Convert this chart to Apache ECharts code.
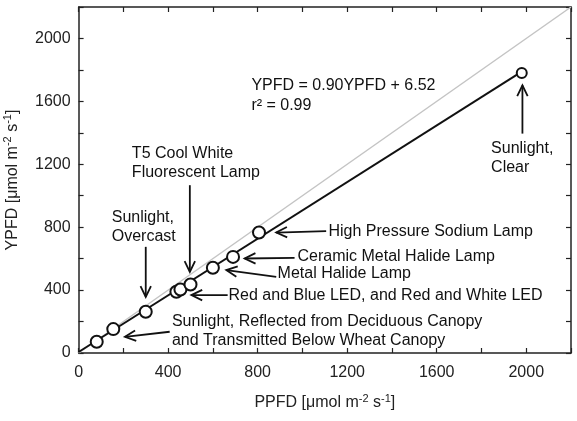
<!DOCTYPE html>
<html>
<head>
<meta charset="utf-8">
<script src="https://cdn.jsdelivr.net/npm/echarts@6/dist/echarts.min.js"></script>
<style>
  html, body { margin: 0; padding: 0; background: #fff; }
  #main { width: 577px; height: 421px; }
</style>
</head>
<body>
<div id="main"></div>
<script>
// measured points (PPFD, YPFD)
var ppfd = [81, 155, 300, 437, 455, 500, 600, 690, 806, 1980];
var ypfd = [72, 152, 262, 389, 404, 436, 542, 611, 766, 1780];

// regression line end points and the 1:1 line
var fitLine = [[0, 6.52], [1980, 1788.5]];
var oneToOne = [[0, 0], [2200, 2200]];

// arrows: [tailX, tailY, tipX, tipY] in data units
var arrows = [
  [1106, 775, 883, 766],
  [965, 605, 742, 601],
  [883, 484, 660, 527],
  [666, 368, 504, 368],
  [407, 135, 207, 103],
  [300, 675, 300, 357],
  [497, 1067, 497, 516],
  [1983, 1395, 1983, 1702]
];

// text notes: left edge x, centre y, text
var noteX = [1116, 978, 889, 670, 417, 148, 238, 1843, 772, 772];
var noteY = [775, 610, 508, 362, 137, 800, 1208, 1241, 1702, 1575];
var noteText = [
  'High Pressure Sodium Lamp',
  'Ceramic Metal Halide Lamp',
  'Metal Halide Lamp',
  'Red and Blue LED, and Red and White LED',
  'Sunlight, Reflected from Deciduous Canopy\nand Transmitted Below Wheat Canopy',
  'Sunlight,\nOvercast',
  'T5 Cool White\nFluorescent Lamp',
  'Sunlight,\nClear',
  'YPFD = 0.90YPFD + 6.52',
  'r\u00B2 = 0.99'
];

var FONT = '"Liberation Sans", Arial, sans-serif';

var points = ppfd.map(function (x, i) { return [x, ypfd[i]]; });
var notes = noteX.map(function (x, i) { return [x, noteY[i], i]; });

var chart = echarts.init(document.getElementById('main'));

function tickLabel(v) {
  return v % 400 === 0 ? String(v) : '';
}

var axisBase = {
  type: 'value',
  min: 0,
  max: 2200,
  interval: 200,
  splitLine: { show: false },
  axisLine: { onZero: false, lineStyle: { color: '#222', width: 1.5 } },
  axisTick: { inside: true, length: 5, lineStyle: { color: '#222', width: 1.2 } }
};

var richName = {
  a: { fontSize: 16, fontFamily: FONT, color: '#222', lineHeight: 20 },
  s: { fontSize: 11, fontFamily: FONT, color: '#222', verticalAlign: 'top' }
};

var option = {
  animation: false,
  backgroundColor: '#fff',
  grid: { left: 78.6, right: 6, top: 7, bottom: 68, outerBoundsMode: 'none', containLabel: false },
  xAxis: [
    Object.assign({}, axisBase, {
      position: 'bottom',
      name: '{a|PPFD [\u03BCmol m}{s|-2}{a| s}{s|-1}{a|]}',
      nameLocation: 'middle',
      nameGap: 40,
      nameTextStyle: { rich: richName },
      axisLabel: { formatter: tickLabel, fontSize: 16, fontFamily: FONT, color: '#222', margin: 12 }
    }),
    Object.assign({}, axisBase, {
      position: 'top',
      axisLabel: { show: false }
    })
  ],
  yAxis: [
    Object.assign({}, axisBase, {
      position: 'left',
      name: '{a|YPFD [\u03BCmol m}{s|-2}{a| s}{s|-1}{a|]}',
      nameLocation: 'middle',
      nameGap: 56,
      nameTextStyle: { rich: richName },
      axisLabel: { formatter: tickLabel, fontSize: 16, fontFamily: FONT, color: '#222', margin: 8 }
    }),
    Object.assign({}, axisBase, {
      position: 'right',
      axisLabel: { show: false }
    })
  ],
  series: [
    {
      type: 'line',
      data: oneToOne,
      symbol: 'none',
      lineStyle: { color: '#c4c4c4', width: 1.5 },
      z: 1
    },
    {
      type: 'line',
      data: fitLine,
      symbol: 'none',
      lineStyle: { color: '#111', width: 2 },
      z: 2
    },
    {
      type: 'scatter',
      data: points,
      symbol: 'circle',
      symbolSize: function (v) { return v[0] > 1500 ? 10 : 12; },
      itemStyle: { color: '#fff', borderColor: '#111', borderWidth: 2, opacity: 1 },
      z: 3
    },
    {
      type: 'custom',
      data: arrows,
      encode: { x: [0, 2], y: [1, 3] },
      clip: false,
      z: 4,
      renderItem: function (params, api) {
        var p1 = api.coord([api.value(0), api.value(1)]);
        var p2 = api.coord([api.value(2), api.value(3)]);
        var ang = Math.atan2(p1[1] - p2[1], p1[0] - p2[0]);
        var len = 12, spread = 0.45;
        var h1 = [p2[0] + len * Math.cos(ang + spread), p2[1] + len * Math.sin(ang + spread)];
        var h2 = [p2[0] + len * Math.cos(ang - spread), p2[1] + len * Math.sin(ang - spread)];
        var st = { stroke: '#111', lineWidth: 1.8, fill: null };
        return {
          type: 'group',
          children: [
            { type: 'line', shape: { x1: p1[0], y1: p1[1], x2: p2[0], y2: p2[1] }, style: st },
            { type: 'polyline', shape: { points: [h1, p2, h2] }, style: st }
          ]
        };
      }
    },
    {
      type: 'custom',
      data: notes,
      encode: { x: 0, y: 1 },
      clip: false,
      z: 5,
      renderItem: function (params, api) {
        var p = api.coord([api.value(0), api.value(1)]);
        return {
          type: 'text',
          x: p[0],
          y: p[1],
          style: {
            text: noteText[api.value(2)],
            fill: '#111',
            fontSize: 16,
            fontFamily: FONT,
            align: 'left',
            verticalAlign: 'middle',
            lineHeight: 19
          }
        };
      }
    }
  ]
};

chart.setOption(option);
</script>
</body>
</html>
